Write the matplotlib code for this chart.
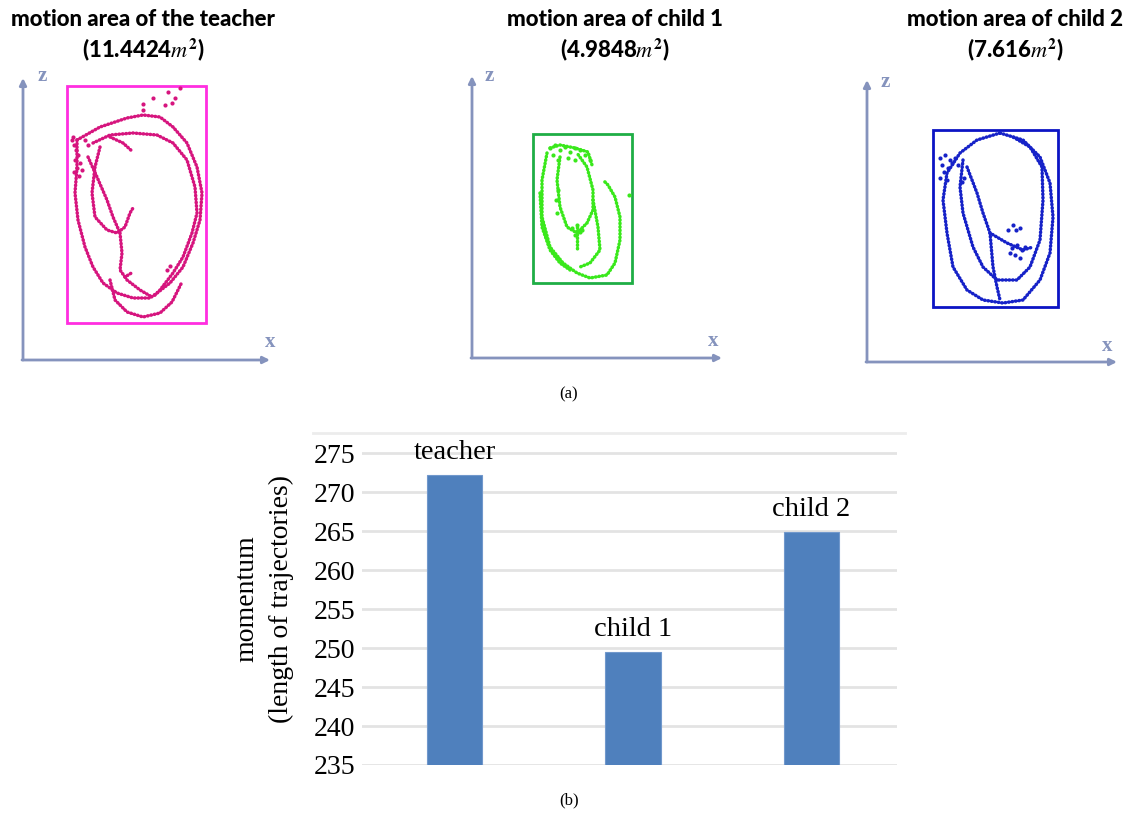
import matplotlib.pyplot as plt
from matplotlib.lines import Line2D
from matplotlib.patches import Rectangle

W, H = 1146, 816

# ---- bar chart data ----
people = ["teacher", "child 1", "child 2"]
momentum = [272.2, 249.5, 264.9]
y_ticks = [235, 240, 245, 250, 255, 260, 265, 270, 275]

# ---- motion area panels (trajectories, image pixel coords) ----
titles = [r"motion area of the teacher" + "\n" + r"(11.4424$\mathit{m}^\mathbf{2}$)",
          r"motion area of child 1" + "\n" + r"(4.9848$\mathit{m}^\mathbf{2}$)",
          r"motion area of child 2" + "\n" + r"(7.616$\mathit{m}^\mathbf{2}$)"]

teacher_strokes = [
    [(77, 140), (100, 127), (127, 118), (143, 115), (160, 117), (173, 127), (187, 143),
     (197, 167), (202, 193), (200, 220), (193, 243), (183, 267), (170, 283), (157, 293)],
    [(77, 140), (77, 167), (75, 193), (78, 220), (85, 247), (93, 267), (103, 283),
     (117, 293), (133, 298), (150, 298), (157, 293)],
    [(93, 143), (110, 135), (133, 133), (157, 135), (173, 143), (187, 160), (195, 187),
     (197, 213), (192, 233), (183, 257), (173, 273), (160, 290), (153, 297)],
    [(100, 147), (95, 167), (92, 193), (95, 217), (107, 230), (117, 233), (125, 227),
     (130, 213), (133, 208)],
    [(120, 233), (122, 253), (120, 270), (125, 277), (133, 272)],
    [(125, 277), (127, 280), (140, 290), (152, 297)],
    [(88, 157), (97, 177), (107, 200), (113, 217), (120, 233)],
    [(110, 137), (123, 143), (133, 152)],
    [(110, 280), (115, 300), (127, 312), (143, 317), (160, 313), (172, 302), (182, 282)],
]
teacher_dots = [(153, 98), (168, 92), (180, 88), (172, 103), (143, 104), (175, 98),
                (143, 110), (165, 105), (72, 140), (74, 145), (76, 150), (78, 155),
                (75, 160), (80, 163), (77, 168), (82, 170), (74, 172), (79, 176),
                (73, 137), (85, 140), (88, 145), (167, 270), (170, 266)]

child1_strokes = [
    [(547, 153), (542, 180), (542, 217), (550, 247), (563, 263), (577, 273), (590, 278),
     (607, 275), (615, 263), (620, 240), (620, 217), (615, 197), (608, 185), (603, 180)],
    [(560, 157), (557, 180), (560, 207), (567, 227), (577, 233), (587, 223), (593, 210),
     (593, 190), (587, 167), (577, 153)],
    [(540, 193), (542, 227), (550, 250), (560, 263), (570, 270)],
    [(593, 200), (598, 227), (600, 250), (590, 263), (580, 267)],
    [(577, 227), (577, 240), (577, 250)],
    [(550, 148), (560, 145), (575, 148), (588, 152), (592, 165)],
]
child1_dots = [(550, 148), (555, 145), (560, 150), (565, 147), (570, 152), (575, 148),
               (580, 150), (585, 155), (568, 158), (558, 160), (590, 160), (553, 155),
               (575, 160), (572, 228), (577, 225), (582, 230), (575, 235), (580, 232),
               (629, 195), (558, 190), (556, 200), (557, 213)]

child2_strokes = [
    [(1000, 133), (1023, 140), (1040, 157), (1050, 183), (1053, 217), (1050, 253),
     (1040, 280), (1023, 300), (1003, 303), (983, 300), (967, 290), (953, 267),
     (947, 233), (943, 200), (947, 173), (960, 153), (977, 140), (1000, 133)],
    [(963, 160), (960, 187), (963, 213), (973, 247), (983, 267), (997, 280), (1017, 280),
     (1030, 267), (1040, 240), (1043, 200), (1042, 167), (1030, 147), (1013, 137)],
    [(967, 167), (977, 193), (983, 213), (990, 233), (1007, 243), (1023, 250),
     (1033, 247)],
    [(990, 233), (993, 267), (997, 287), (1000, 300)],
]
child2_dots = [(940, 158), (945, 155), (950, 160), (955, 158), (942, 165), (948, 168),
               (952, 163), (958, 165), (944, 172), (940, 178), (947, 180),
               (1012, 248), (1017, 245), (1022, 250), (1015, 255), (1020, 258),
               (1025, 247), (1010, 253), (1008, 230), (1013, 225), (1016, 230),
               (1020, 228), (964, 178), (962, 182)]

panel_strokes = [teacher_strokes, child1_strokes, child2_strokes]
panel_dots = [teacher_dots, child1_dots, child2_dots]
# bounding boxes (left, top, right, bottom)
panel_boxes = [(67, 86, 206, 323), (533, 134, 632, 283), (933, 130, 1058, 307)]

# ---- styling ----
point_colors = ["#d6157e", "#3ae81c", "#1622c8"]
box_colors = ["#ff2ee0", "#1fae45", "#0c14c4"]
axis_color = "#8593bd"
regions = [(0, 60, 290, 375), (455, 60, 735, 375), (850, 60, 1140, 375)]
origins = [(23, 360), (472, 358), (867, 362)]
z_tips = [78, 76, 80]
x_tips = [270, 722, 1117]
z_label_pos = [(42, 76), (489, 76), (885, 82)]
x_label_pos = [(270, 342), (713, 341), (1107, 346)]
title_x = [143, 615, 1015]

plt.rcParams["mathtext.fontset"] = "stix"

fig = plt.figure(figsize=(W / 100, H / 100), dpi=100)


def px_axes(left, top, right, bottom):
    return fig.add_axes([left / W, 1 - bottom / H, (right - left) / W, (bottom - top) / H])


for i in range(3):
    l, t, r, b = regions[i]
    ax = px_axes(l, t, r, b)
    ax.set_xlim(l, r)
    ax.set_ylim(b, t)
    ax.axis("off")

    ox, oy = origins[i]
    ax.annotate("", xy=(ox, z_tips[i]), xytext=(ox, oy),
                arrowprops=dict(arrowstyle="-|>", color=axis_color, lw=2,
                                mutation_scale=10, shrinkA=0, shrinkB=0))
    ax.annotate("", xy=(x_tips[i], oy), xytext=(ox - 1, oy),
                arrowprops=dict(arrowstyle="-|>", color=axis_color, lw=2,
                                mutation_scale=10, shrinkA=0, shrinkB=0))
    ax.text(*z_label_pos[i], "z", color=axis_color, fontsize=15, family="Liberation Serif",
            fontweight="bold", ha="center", va="center")
    ax.text(*x_label_pos[i], "x", color=axis_color, fontsize=15, family="Liberation Serif",
            fontweight="bold", ha="center", va="center")

    bl, bt, br, bb = panel_boxes[i]
    ax.add_patch(Rectangle((bl, bt), br - bl, bb - bt, fill=False,
                           edgecolor=box_colors[i], lw=2))

    for stroke in panel_strokes[i]:
        xs = [p[0] for p in stroke]
        ys = [p[1] for p in stroke]
        ax.plot(xs, ys, color=point_colors[i], lw=2.5, linestyle=(0, (0.15, 0.85)),
                dash_capstyle="round")
    dx = [p[0] for p in panel_dots[i]]
    dy = [p[1] for p in panel_dots[i]]
    ax.scatter(dx, dy, s=9, color=point_colors[i], linewidths=0)

    fig.text(title_x[i] / W, 1 - 36 / H, titles[i], ha="center", va="center",
             fontsize=16, family="Lato", fontweight="black", linespacing=1.3)

fig.text(569 / W, 1 - 394 / H, "(a)", ha="center", va="center",
         fontsize=12, family="Liberation Serif")
fig.text(569 / W, 1 - 800 / H, "(b)", ha="center", va="center",
         fontsize=12, family="Liberation Serif")

# ---- bar chart ----
top_val = 277.6
bx = px_axes(362, 433, 897, 765)
pos = list(range(len(people)))
bars = bx.bar(pos, momentum, width=0.31, bottom=0, color="#4f80bd",
              edgecolor="#7198cc", linewidth=0.8, zorder=3)
bx.set_ylim(235, top_val)
bx.set_xlim(-0.52, 2.48)
bx.set_yticks(y_ticks)
bx.set_xticks([])
bx.grid(axis="y", color="#e3e3e3", lw=2, zorder=0)
for s in bx.spines.values():
    s.set_visible(False)
bx.tick_params(axis="y", length=0, pad=5, labelsize=20)
for lab in bx.get_yticklabels():
    lab.set_family("Liberation Serif")
bx.set_ylabel("momentum\n(length of trajectories)", fontsize=20,
              family="Liberation Serif", labelpad=14, linespacing=1.5)
for p, v, name in zip(pos, momentum, people):
    bx.annotate(name, (p, v), xytext=(0, 7), textcoords="offset points",
                ha="center", va="bottom", fontsize=20.5, family="Liberation Serif")

fig.add_artist(Line2D([313 / W, 905 / W], [1 - 433 / H, 1 - 433 / H],
                      color="#ececec", lw=2))

fig.savefig("out.png", dpi=100, facecolor="white")
